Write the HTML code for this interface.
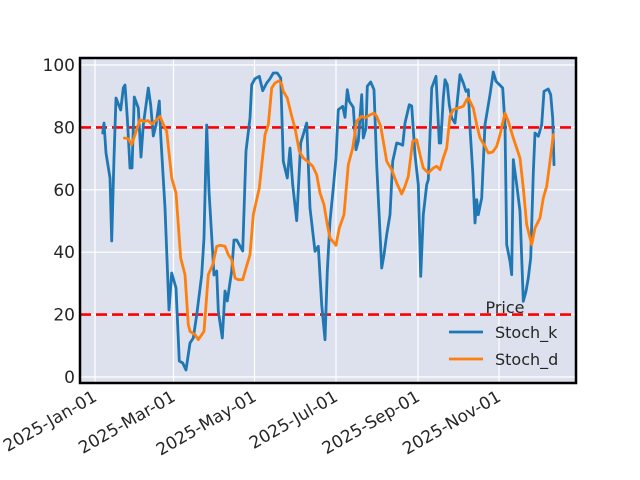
<!DOCTYPE html>
<html><head><meta charset="utf-8"><style>
html,body{margin:0;padding:0;background:#fff;}
svg{display:block;}
text{font-family:"DejaVu Sans","Liberation Sans",sans-serif;fill:#262626;}
</style></head><body>
<svg width="640" height="480" viewBox="0 0 640 480" xmlns="http://www.w3.org/2000/svg">
<rect x="0" y="0" width="640" height="480" fill="#fff"/>
<rect x="80" y="58" width="496" height="325" fill="#dce1ed"/>
<g stroke="#fff" stroke-width="1.2">
<line x1="80" y1="377" x2="576" y2="377"/><line x1="80" y1="314.6" x2="576" y2="314.6"/>
<line x1="80" y1="252.2" x2="576" y2="252.2"/><line x1="80" y1="189.8" x2="576" y2="189.8"/>
<line x1="80" y1="127.4" x2="576" y2="127.4"/><line x1="80" y1="65" x2="576" y2="65"/>
<line x1="95" y1="58" x2="95" y2="383"/><line x1="173.5" y1="58" x2="173.5" y2="383"/>
<line x1="254.5" y1="58" x2="254.5" y2="383"/><line x1="336" y1="58" x2="336" y2="383"/>
<line x1="418" y1="58" x2="418" y2="383"/><line x1="499" y1="58" x2="499" y2="383"/>
</g>
<g stroke="#ff0000" stroke-width="2.6" stroke-dasharray="11,5">
<line x1="80" y1="314.6" x2="576" y2="314.6"/><line x1="80" y1="127.4" x2="576" y2="127.4"/>
</g>
<g fill="none" stroke-width="2.8" stroke-linejoin="round" stroke-linecap="round">
<polyline stroke="#1f77b4" points="102.7,133 104,123 106,153 110,178 111.7,241 114,158 116,98 120.7,110 123.3,88 125,85 127.3,118 130,168 132,168 134.3,97 138.3,108 141,157 143.3,125 148.3,88 150.7,105 153.3,136 156,125 159.3,101 160.7,135 165,208 169,310 171.7,273 176,288 179.3,361 182.7,363 186,370 190,343 193.3,338 196.7,315 201.7,275 204,238 206.7,125 209,191 214,275 216.7,271 218.3,311 222.3,338 225,291 227.3,301 231.7,271 234,240 236.7,240 242.7,251 246,151 250,118 251.7,84.7 255,78.7 259.3,76.3 262.7,90.7 266.7,83 270,78.7 273.3,73 277.3,73 280.7,78 283.3,161.3 287.3,178 290,148 292.7,184.7 296.7,220.7 300.7,143 306.7,123 310,208 315,251.3 318.3,246.3 321.7,304.7 325,339.7 327.3,271.3 330,221.3 333.3,188 336,158 338.3,109.7 342.7,106.3 345,117.3 347.3,89.7 349.3,101.3 353.3,107.3 356,149.7 358.3,141.3 361.7,94.7 363.3,138 366,128 367.3,86.3 370.7,82 374,89.7 376.7,164.7 381.7,268 384,254.7 386.7,234.7 390,214.7 392.7,161.3 396.7,143 400,144 402.7,145.3 405,123 409.3,104.7 411.7,106 415,154.7 418.3,184.7 420.7,276.3 423.3,214.7 426.7,184.7 428.3,179.7 430,134.7 431.7,88 436,76.3 439.3,143 440.7,143 443.3,98 445,79.7 447.3,84.7 449.3,104.7 451.7,118 455,123 457.3,101.3 460,74.7 463.3,83 466,91.3 468.3,89.7 470,128 472.7,171.3 475,223 476.7,199.7 478.3,214.7 481.7,198 485,124.7 490,94.7 493.3,72 496,81.3 500,85.3 502.7,88 505,124.7 506.7,244.7 510,261.3 511.7,274.7 513.3,159.7 516.7,184.7 520,211.3 523.3,301.3 526,291.3 528.3,278 530.7,258 533.3,173 535,133 538.3,136.3 541.7,124.7 544,91.3 548.3,89 550.7,94.7 552.7,118 554,164.7"/>
<polyline stroke="#ff7f0e" points="124.3,138 128.3,138.7 131.7,144.7 135,134.7 140,119.7 143.3,121.3 148.3,120.7 151.7,124 156.7,119.7 160,116.3 162.7,123 166.7,131.3 171.7,178 176,193 180.7,258 185,274.7 188.3,324.7 190,331.3 195,334.7 198.3,339.7 204,331.3 208.3,274.7 212.7,264.7 216.7,246.3 220,245.3 225,246.3 228.3,254.7 231.7,259.7 235,278 238.3,279.7 242.7,279.7 246,268 250,254.7 253.3,214.7 259.3,188 265,134.7 268.3,124.7 271.7,88 275,83 279.3,80.7 281.7,84.7 283.3,91.3 287.3,98 291.7,116.3 295,128 299.3,151.3 303.3,158 308.3,162 312.7,166.3 316.7,174.7 320,193 324,204.7 327.3,224.7 330,238 336,245.3 339.3,228 344,214.7 348.3,164.7 352.7,148 356.7,121.3 361.7,116.3 365,118 369.3,115.3 374,113 376.7,116.3 380.7,126.3 383.3,141.3 386.7,161.3 391.7,169.7 396.7,183 401.7,194 405,186.3 408.3,176.3 412.7,141.3 416.7,139.7 420,154.7 423.3,168 428.3,173 433.3,168 436.7,166.3 440,169.7 443.3,158 446.7,148 450,116.3 453.3,109.7 458.3,108 463.3,106.3 466.7,99.7 468.3,98 473.3,108 476.7,124.7 480,138 485,146.3 488.3,153 492.7,152 496.7,146.3 500,134.7 505,113 508.3,121.3 513.3,138 520,158 523.3,188 526.7,224.7 531.7,244.7 535,228 540,218 543.3,198 546.7,186.3 550,161.3 553.3,134.7"/>
</g>
<rect x="80" y="58" width="496" height="325" fill="none" stroke="#000" stroke-width="2.5"/>
<g font-size="17" text-anchor="end">
<text x="75" y="383">0</text><text x="75" y="320.6">20</text><text x="75" y="258.2">40</text>
<text x="75" y="195.8">60</text><text x="75" y="133.4">80</text><text x="75" y="71">100</text>
</g>
<g font-size="17" text-anchor="end">
<text transform="translate(98,400) rotate(-30)">2025-Jan-01</text>
<text transform="translate(176.5,400) rotate(-30)">2025-Mar-01</text>
<text transform="translate(257.5,400) rotate(-30)">2025-May-01</text>
<text transform="translate(339,400) rotate(-30)">2025-Jul-01</text>
<text transform="translate(421,400) rotate(-30)">2025-Sep-01</text>
<text transform="translate(502,400) rotate(-30)">2025-Nov-01</text>
</g>
<text x="505" y="313" font-size="16" text-anchor="middle">Price</text>
<line x1="449" y1="332" x2="483" y2="332" stroke="#1f77b4" stroke-width="2.8"/>
<line x1="449" y1="359" x2="483" y2="359" stroke="#ff7f0e" stroke-width="2.8"/>
<text x="495" y="338" font-size="16">Stoch_k</text>
<text x="495" y="365" font-size="16">Stoch_d</text>
</svg>
</body></html>
